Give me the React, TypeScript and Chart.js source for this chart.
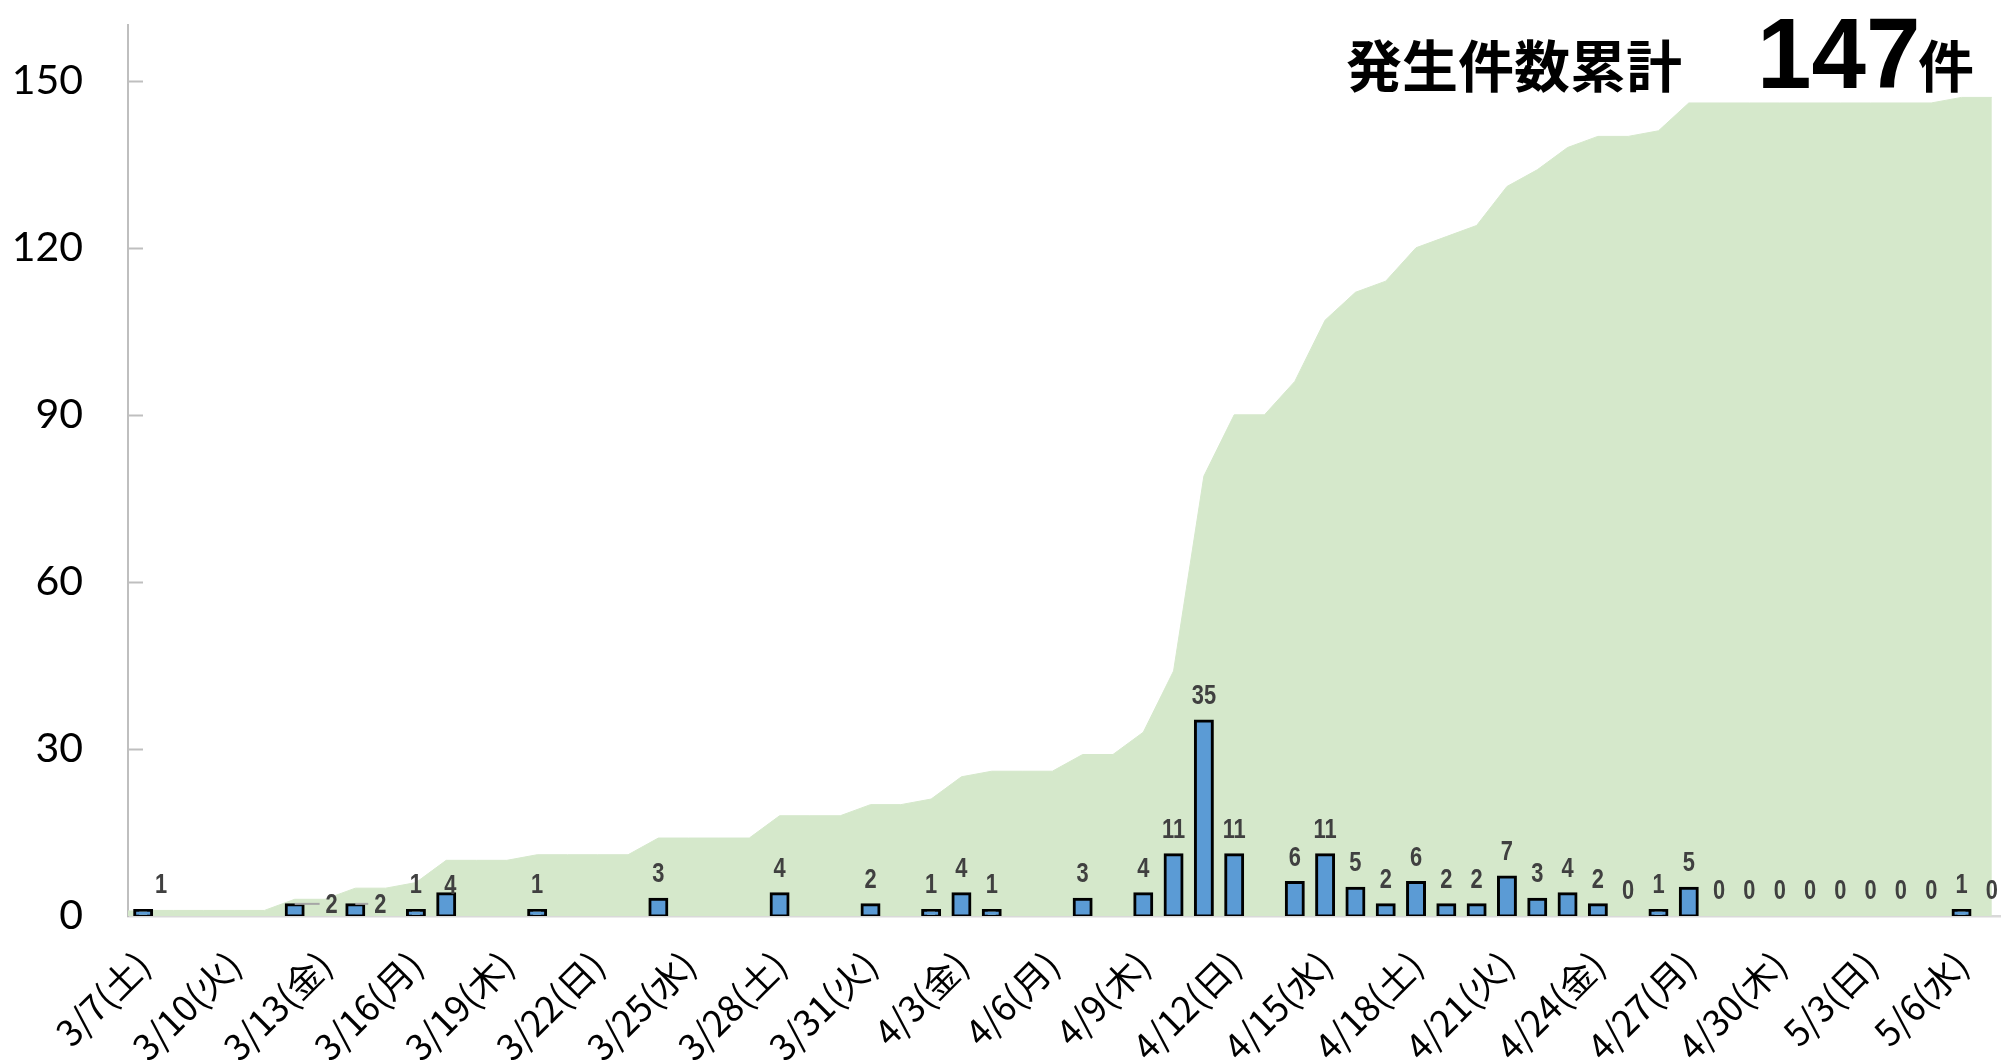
import React, { useEffect, useRef } from 'react';
import { Chart, registerables } from 'chart.js';

Chart.register(...registerables);

// ---- data ----
const categories: string[] = [
  '3/7(土)', '3/8(日)', '3/9(月)', '3/10(火)', '3/11(水)', '3/12(木)', '3/13(金)',
  '3/14(土)', '3/15(日)', '3/16(月)', '3/17(火)', '3/18(水)', '3/19(木)', '3/20(金)',
  '3/21(土)', '3/22(日)', '3/23(月)', '3/24(火)', '3/25(水)', '3/26(木)', '3/27(金)',
  '3/28(土)', '3/29(日)', '3/30(月)', '3/31(火)', '4/1(水)', '4/2(木)', '4/3(金)',
  '4/4(土)', '4/5(日)', '4/6(月)', '4/7(火)', '4/8(水)', '4/9(木)', '4/10(金)',
  '4/11(土)', '4/12(日)', '4/13(月)', '4/14(火)', '4/15(水)', '4/16(木)', '4/17(金)',
  '4/18(土)', '4/19(日)', '4/20(月)', '4/21(火)', '4/22(水)', '4/23(木)', '4/24(金)',
  '4/25(土)', '4/26(日)', '4/27(月)', '4/28(火)', '4/29(水)', '4/30(木)', '5/1(金)',
  '5/2(土)', '5/3(日)', '5/4(月)', '5/5(火)', '5/6(水)', '5/7(木)',
];

// daily new cases (null = no entry that day)
const dailyCases: (number | null)[] = [
  1, null, null, null, null, 2, null,
  2, null, 1, 4, null, null, 1,
  null, null, null, 3, null, null, null,
  4, null, null, 2, null, 1, 4,
  1, null, null, 3, null, 4, 11,
  35, 11, null, 6, 11, 5, 2,
  6, 2, 2, 7, 3, 4, 2,
  0, 1, 5, 0, 0, 0, 0,
  0, 0, 0, 0, 1, 0,
];

const tickEvery = 3;
const yMin = 0;
const yMax = 160;
const yStep = 30;

const titleText = '発生件数累計';
const unitText = '件';

// running total for the area series
const cumulative: number[] = [];
dailyCases.reduce((acc: number, v) => {
  const next = acc + (v ?? 0);
  cumulative.push(next);
  return next;
}, 0);
const total = cumulative[cumulative.length - 1];

// manual label nudges (as in the original layout)
const labelNudges: Record<number, { dx: number; dy: number; leader?: boolean }> = {
  0: { dx: 18, dy: 0 },
  5: { dx: 37, dy: 25, leader: true },
  7: { dx: 25, dy: 25, leader: true },
  10: { dx: 4, dy: 17 },
};

// ---- styles ----
const BAR_COLOR = '#5B9BD5';
const AREA_COLOR = '#D5E8CB';
const LABEL_COLOR = '#404040';

const areaLeadPlugin = {
  id: 'areaLead',
  beforeDatasetsDraw(chart: any) {
    const meta = chart.getDatasetMeta(1);
    const p0 = meta.data[0];
    if (!p0) return;
    const ctx = chart.ctx;
    const y0 = chart.scales.y.getPixelForValue(0);
    const left = chart.chartArea.left;
    ctx.save();
    ctx.fillStyle = AREA_COLOR;
    ctx.fillRect(left, p0.y, p0.x - left + 0.5, y0 - p0.y);
    ctx.restore();
  },
};

const yTickPlugin = {
  id: 'yInsideTicks',
  afterDatasetsDraw(chart: any) {
    const ys = chart.scales.y;
    const ctx = chart.ctx;
    const left = chart.chartArea.left;
    ctx.save();
    ctx.strokeStyle = '#BFBFBF';
    ctx.lineWidth = 2;
    ys.ticks.forEach((t: any) => {
      if (t.value === 0) return;
      const y = Math.round(ys.getPixelForValue(t.value)) + 0.5;
      ctx.beginPath();
      ctx.moveTo(left, y);
      ctx.lineTo(left + 15, y);
      ctx.stroke();
    });
    ctx.restore();
  },
};

const dataLabelPlugin = {
  id: 'barLabels',
  afterDatasetsDraw(chart: any) {
    const meta = chart.getDatasetMeta(0);
    const ys = chart.scales.y;
    const ctx = chart.ctx;
    ctx.save();
    ctx.font = 'bold 28px "Liberation Sans", Arial, sans-serif';
    ctx.fillStyle = LABEL_COLOR;
    ctx.textAlign = 'center';
    ctx.textBaseline = 'alphabetic';
    const sx = 0.78;
    meta.data.forEach((el: any, i: number) => {
      const v = dailyCases[i];
      if (v === null || v === undefined) return;
      const n = labelNudges[i] || { dx: 0, dy: 0 };
      const x = el.x + n.dx;
      const top = ys.getPixelForValue(v);
      const base = top - 17 + n.dy;
      const txt = String(v);
      if (n.leader) {
        const w = ctx.measureText(txt).width * sx;
        const cy = base - 9;
        ctx.save();
        ctx.strokeStyle = '#A6A6A6';
        ctx.lineWidth = 2;
        ctx.beginPath();
        ctx.moveTo(el.x, cy);
        ctx.lineTo(x - w / 2 - 6, cy);
        ctx.stroke();
        ctx.restore();
      }
      ctx.save();
      ctx.translate(x, base);
      ctx.scale(sx, 1);
      ctx.fillText(txt, 0, 0);
      ctx.restore();
    });
    ctx.restore();
  },
};

const headlinePlugin = {
  id: 'headline',
  afterDraw(chart: any) {
    const ctx = chart.ctx;
    ctx.save();
    ctx.fillStyle = '#000';
    ctx.font = 'bold 56px "Noto Sans CJK JP", sans-serif';
    ctx.textAlign = 'center';
    ctx.textBaseline = 'middle';
    ctx.fillText(titleText, 1514, 66);

    ctx.font = 'bold 101px "Liberation Sans", Arial, sans-serif';
    ctx.textAlign = 'left';
    ctx.textBaseline = 'alphabetic';
    ctx.save();
    ctx.translate(1757, 88);
    ctx.scale(0.97, 1);
    ctx.fillText(String(total), 0, 0);
    ctx.restore();

    ctx.font = 'bold 56px "Noto Sans CJK JP", sans-serif';
    ctx.textAlign = 'center';
    ctx.textBaseline = 'middle';
    ctx.fillText(unitText, 1946, 66);
    ctx.restore();
  },
};

export default function App() {
  const canvasRef = useRef<HTMLCanvasElement | null>(null);

  useEffect(() => {
    const canvas = canvasRef.current;
    if (!canvas) return;
    const chart = new Chart(canvas, {
      type: 'bar',
      data: {
        labels: categories,
        datasets: [
          {
            type: 'bar',
            label: '発生件数',
            data: dailyCases as any,
            backgroundColor: BAR_COLOR,
            borderColor: '#000000',
            borderWidth: 3,
            borderSkipped: false,
            inflateAmount: 1.5,
            barPercentage: 0.56,
            categoryPercentage: 1,
            order: 1,
          },
          {
            type: 'line',
            label: '累計',
            data: cumulative,
            fill: 'origin',
            backgroundColor: AREA_COLOR,
            borderColor: AREA_COLOR,
            borderWidth: 1,
            pointRadius: 0,
            tension: 0,
            order: 2,
          },
        ],
      },
      options: {
        responsive: false,
        animation: false,
        layout: { padding: { top: 25, right: 3, left: 0, bottom: 0 } },
        plugins: {
          legend: { display: false },
          tooltip: { enabled: false },
          title: { display: false },
        },
        scales: {
          x: {
            offset: true,
            grid: { display: false, drawTicks: false },
            border: { display: true, color: '#D9D9D9', width: 2.5 },
            ticks: {
              autoSkip: false,
              maxRotation: 45,
              minRotation: 45,
              padding: 27,
              labelOffset: 0,
              color: '#000',
              font: { family: '"Noto Sans CJK JP", sans-serif', size: 36 },
              callback: (_v: any, i: number) => (i % tickEvery === 0 ? categories[i] : ''),
            },
            afterFit: (scale: any) => {
              scale.height = 148;
              scale.paddingLeft = 0;
              scale.paddingRight = 0;
              scale.paddingTop = 0;
              scale.paddingBottom = 0;
            },
          },
          y: {
            min: yMin,
            max: yMax,
            grid: { display: false, drawTicks: false },
            border: { display: true, color: '#BFBFBF', width: 2 },
            ticks: {
              stepSize: yStep,
              includeBounds: false,
              padding: 45,
              color: '#000',
              font: { family: 'Lato, "Liberation Sans", sans-serif', size: 41 },
            },
            afterFit: (scale: any) => {
              scale.width = 128;
              scale.paddingTop = 0;
              scale.paddingBottom = 0;
              scale.paddingLeft = 0;
              scale.paddingRight = 0;
            },
          },
        },
      },
      plugins: [areaLeadPlugin, yTickPlugin, dataLabelPlugin, headlinePlugin],
    });
    return () => chart.destroy();
  }, []);

  return (
    <div
      style={{
        position: 'fixed',
        left: 0,
        top: 0,
        width: '100vw',
        height: '100vh',
        overflow: 'hidden',
        background: '#fff',
      }}
    >
      <canvas ref={canvasRef} width={2010} height={1064} style={{ display: 'block', width: 2010, height: 1064 }} />
    </div>
  );
}
